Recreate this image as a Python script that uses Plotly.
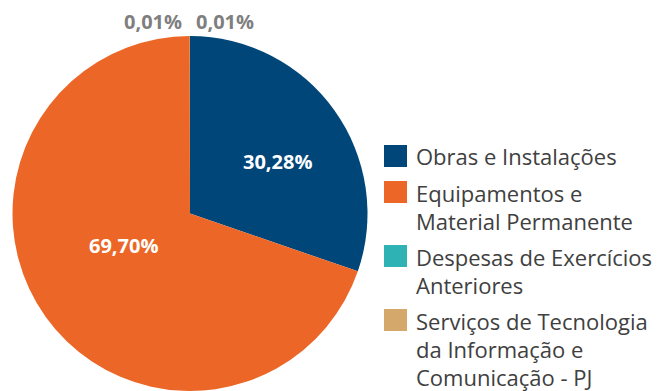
import plotly.graph_objects as go

categories = [
    "Obras e Instalações",
    "Equipamentos e Material Permanente",
    "Despesas de Exercícios Anteriores",
    "Serviços de Tecnologia da Informação e Comunicação - PJ",
]
# how each category name wraps in the legend
legend_lines = [
    ["Obras e Instalações"],
    ["Equipamentos e", "Material Permanente"],
    ["Despesas de Exercícios", "Anteriores"],
    ["Serviços de Tecnologia", "da Informação e", "Comunicação - PJ"],
]
shares = [30.28, 69.70, 0.01, 0.01]
colors = ["#004678", "#EC6727", "#2EB2B4", "#D3A86A"]

W, H = 658, 391
FONT = "Open Sans"


def pct(v):
    return f"{v:.2f}%".replace(".", ",")


fig = go.Figure(
    go.Pie(
        labels=categories,
        values=shares,
        marker=dict(colors=colors, line=dict(width=0)),
        sort=False,
        direction="clockwise",
        rotation=0,
        textinfo="none",
        domain=dict(x=[12 / W, 368 / W], y=[0, (H - 36) / H]),
        hoverinfo="label+percent",
        showlegend=False,
    )
)


def px_x(x):
    return x / W


def px_y(y):
    return 1 - y / H


# value labels: white inside the two large slices, grey above the tiny ones
label_pos = [(277, 161), (123, 245), (153, 22), (225, 22)]
for v, (lx, ly) in zip(shares, label_pos):
    fig.add_annotation(
        x=px_x(lx), y=px_y(ly), xref="paper", yref="paper",
        xanchor="center", yanchor="middle",
        text=pct(v), showarrow=False,
        font=dict(family=FONT, size=20, weight="bold",
                  color="white" if v >= 1 else "#7F7F7F"),
    )

# legend: colour swatches with wrapped names
LINE_H = 28
GAP = 8
SW = 23
sw_x0 = 384
text_x = 414
top = 145
for col, lines in zip(colors, legend_lines):
    fig.add_shape(
        type="rect", xref="paper", yref="paper",
        x0=px_x(sw_x0), x1=px_x(sw_x0 + SW),
        y0=px_y(top), y1=px_y(top + SW - 1),
        fillcolor=col, line=dict(width=0),
    )
    for k, line in enumerate(lines):
        fig.add_annotation(
            x=px_x(text_x), y=px_y(top + SW / 2 + k * LINE_H),
            xref="paper", yref="paper", xanchor="left", yanchor="middle",
            text=line, showarrow=False,
            font=dict(family=FONT, size=22, color="#404040"),
        )
    top += LINE_H * len(lines) + GAP

fig.update_layout(
    width=W, height=H,
    margin=dict(l=0, r=0, t=0, b=0),
    paper_bgcolor="white",
    plot_bgcolor="white",
    showlegend=False,
)

fig.write_html("out.html")
